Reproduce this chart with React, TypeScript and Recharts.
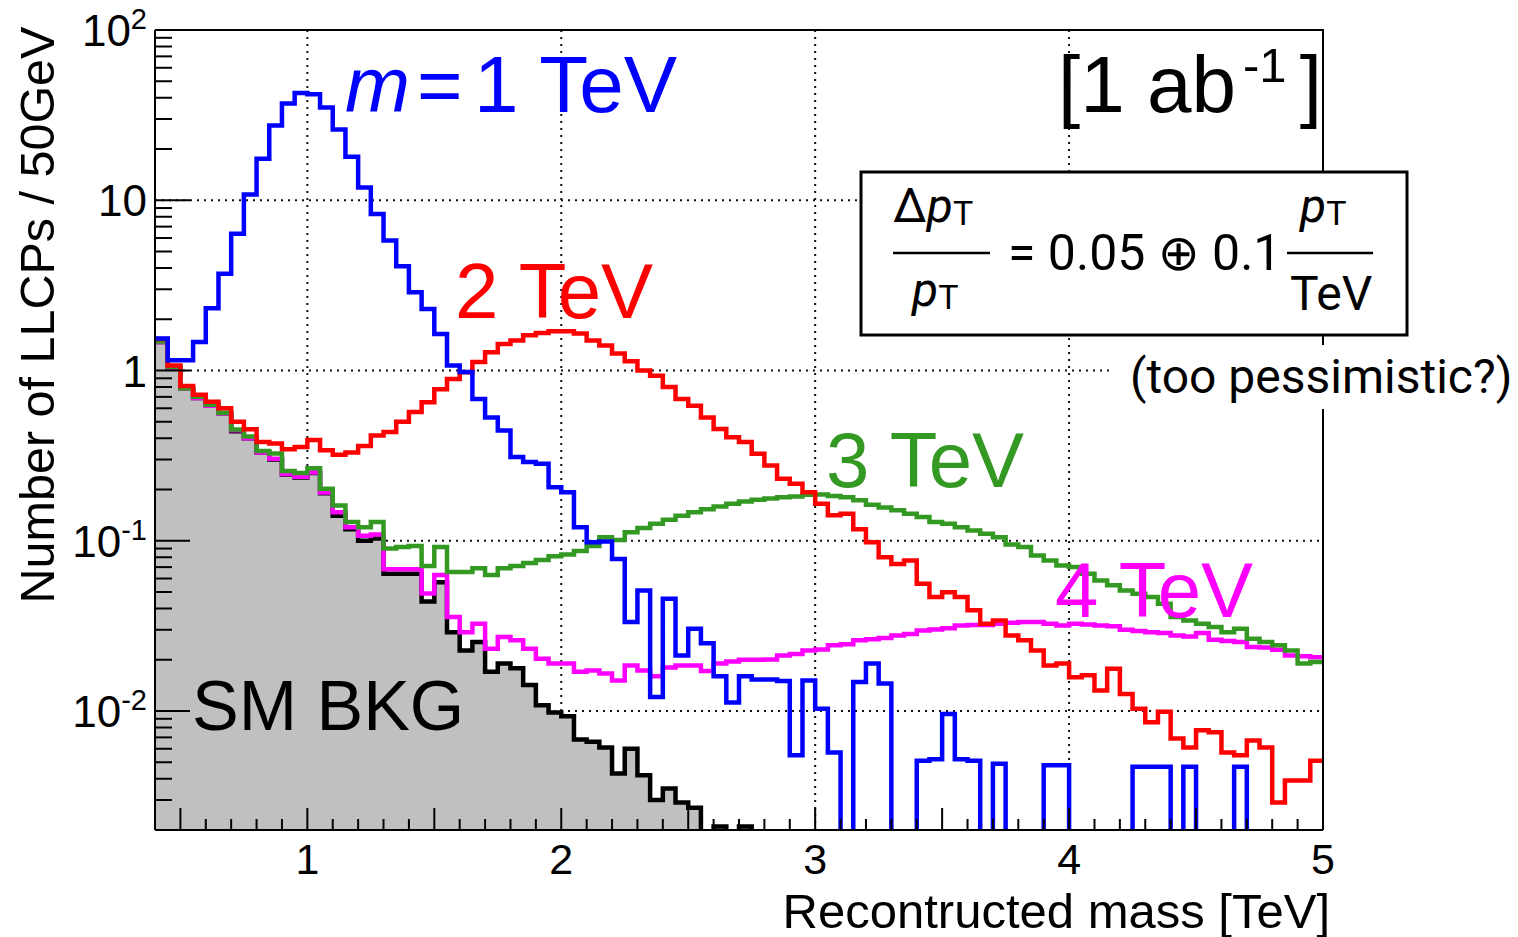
import React from 'react'
import { ComposedChart, Line, Area, XAxis, YAxis, CartesianGrid } from 'recharts'

// 92 bins of 50 GeV, 0.4 -> 5 TeV. Values are entries per bin;
// 0 means an empty bin (drawn below the 0.002 floor and clipped).
const BIN_START = 0.4
const BIN_WIDTH = 0.05

const smBkg = [
  1.47, 1.04, 0.78, 0.69, 0.62, 0.56, 0.44, 0.40, 0.33, 0.30,
  0.245, 0.235, 0.25, 0.19, 0.14, 0.117, 0.10, 0.103, 0.064, 0.064,
  0.064, 0.044, 0.057, 0.029, 0.0227, 0.0254, 0.017, 0.019, 0.0178, 0.0142,
  0.0108, 0.0098, 0.0093, 0.0068, 0.0066, 0.0061, 0.0043, 0.006, 0.0042, 0.003,
  0.0035, 0.0029, 0.0027, 0, 0.0021, 0, 0.0021, 0, 0, 0,
  0, 0, 0, 0, 0, 0, 0, 0, 0, 0,
  0, 0, 0, 0, 0, 0, 0, 0, 0, 0,
  0, 0, 0, 0, 0, 0, 0, 0, 0, 0,
  0, 0, 0, 0, 0, 0, 0, 0, 0, 0,
  0, 0,
]

const m1TeV = [
  1.54, 1.15, 1.15, 1.47, 2.32, 3.7, 6.35, 10.8, 17.5, 27.5,
  37, 42.7, 42, 35, 26, 18, 11.9, 8.3, 5.8, 4.1,
  2.88, 2.3, 1.64, 1.07, 0.98, 0.68, 0.53, 0.444, 0.31, 0.29,
  0.283, 0.206, 0.193, 0.12, 0.098, 0.099, 0.078, 0.0333, 0.051, 0.0121,
  0.0456, 0.0212, 0.0304, 0.025, 0.016, 0.0112, 0.016, 0.0153, 0.0153, 0.015,
  0.0055, 0.0151, 0.0103, 0.0057, 0, 0.0148, 0.019, 0.0145, 0, 0,
  0.0051, 0.0052, 0.0096, 0.0052, 0.0051, 0, 0.0049, 0, 0, 0,
  0.0048, 0.0048, 0, 0, 0, 0, 0, 0.0047, 0.0047, 0.0047,
  0, 0.0047, 0, 0, 0, 0.0047, 0, 0, 0, 0,
  0, 0,
]

const m2TeV = [
  1.53, 1.07, 0.81, 0.72, 0.655, 0.60, 0.50, 0.452, 0.38, 0.372,
  0.345, 0.355, 0.39, 0.34, 0.32, 0.33, 0.36, 0.415, 0.435, 0.50,
  0.57, 0.65, 0.775, 0.89, 0.977, 1.12, 1.28, 1.43, 1.50, 1.61,
  1.66, 1.70, 1.70, 1.65, 1.50, 1.40, 1.26, 1.135, 1.0, 0.93,
  0.80, 0.68, 0.62, 0.53, 0.454, 0.406, 0.38, 0.324, 0.277, 0.231,
  0.216, 0.193, 0.165, 0.141, 0.144, 0.117, 0.098, 0.080, 0.073, 0.0766,
  0.0559, 0.0467, 0.0499, 0.0467, 0.039, 0.0325, 0.034, 0.0278, 0.026, 0.0227,
  0.0185, 0.019, 0.0158, 0.0162, 0.0132, 0.0177, 0.0126, 0.0103, 0.0086, 0.0099,
  0.0069, 0.0061, 0.0077, 0.0075, 0.0057, 0.0055, 0.0067, 0.0061, 0.0029, 0.0039,
  0.0039, 0.0051,
]

const m3TeV = [
  1.48, 1.05, 0.785, 0.70, 0.63, 0.565, 0.45, 0.41, 0.337, 0.325,
  0.257, 0.25, 0.267, 0.202, 0.161, 0.129, 0.12, 0.129, 0.09, 0.092,
  0.093, 0.071, 0.092, 0.0655, 0.0655, 0.069, 0.063, 0.069, 0.071, 0.074,
  0.077, 0.081, 0.083, 0.087, 0.093, 0.105, 0.101, 0.112, 0.119, 0.126,
  0.133, 0.14, 0.147, 0.153, 0.159, 0.165, 0.17, 0.174, 0.177, 0.18,
  0.182, 0.186, 0.187, 0.183, 0.18, 0.173, 0.163, 0.157, 0.151, 0.144,
  0.138, 0.129, 0.126, 0.12, 0.115, 0.11, 0.105, 0.095, 0.092, 0.082,
  0.0766, 0.0716, 0.070, 0.064, 0.0585, 0.0547, 0.051, 0.0489, 0.0467, 0.0427,
  0.0356, 0.034, 0.0325, 0.0311, 0.029, 0.0304, 0.0266, 0.0254, 0.0243, 0.0227,
  0.019, 0.0194,
]

const m4TeV = [
  1.47, 1.04, 0.78, 0.69, 0.62, 0.56, 0.445, 0.40, 0.33, 0.303,
  0.247, 0.238, 0.252, 0.192, 0.147, 0.12, 0.107, 0.109, 0.068, 0.068,
  0.068, 0.049, 0.063, 0.0356, 0.029, 0.0325, 0.0232, 0.0272, 0.026, 0.0232,
  0.0203, 0.019, 0.019, 0.017, 0.0173, 0.0166, 0.0151, 0.0185, 0.0173, 0.016,
  0.018, 0.0185, 0.0185, 0.0172, 0.019, 0.0195, 0.02, 0.02, 0.0201, 0.0212,
  0.0216, 0.0227, 0.023, 0.0243, 0.0247, 0.026, 0.0264, 0.0268, 0.0278, 0.0283,
  0.0297, 0.0301, 0.0306, 0.0318, 0.032, 0.032, 0.0325, 0.033, 0.0333, 0.0333,
  0.0325, 0.0318, 0.0325, 0.0322, 0.0318, 0.0315, 0.030, 0.0295, 0.029, 0.0287,
  0.0278, 0.0274, 0.0287, 0.0262, 0.0258, 0.0254, 0.0238, 0.0236, 0.0229, 0.0212,
  0.021, 0.0207,
]

const X_LABELS = [1, 2, 3, 4, 5]
const Y_MAJOR = [0.01, 0.1, 1, 10, 100]
const Y_LABELS = [['10', '-2'], ['10', '-1'], ['1', ''], ['10', ''], ['10', '2']]

const EMPTY = 1e-4

// step rows: one per bin edge, last edge repeats the last bin
const rows = Array.from({ length: smBkg.length + 1 }, (_, i) => {
  const k = Math.min(i, smBkg.length - 1)
  const v = (a: number[]) => (a[k] > 0 ? a[k] : EMPTY)
  return {
    x: Math.round((BIN_START + i * BIN_WIDTH) * 1000) / 1000,
    bkg: v(smBkg), m1: v(m1TeV), m2: v(m2TeV), m3: v(m3TeV), m4: v(m4TeV),
  }
})

const xTicks: number[] = []
for (let k = 5; k <= 50; k++) xTicks.push(k / 10)
const yTicks: number[] = []
for (let d = -3; d <= 1; d++)
  for (let m = 1; m <= 9; m++) {
    const t = Number((m * Math.pow(10, d)).toPrecision(3))
    if (t >= 0.002) yTicks.push(t)
  }
yTicks.push(100)

const HELV = '"Liberation Sans", Arial, Helvetica, sans-serif'
const ROBOTO = 'Roboto, "Noto Sans", "DejaVu Sans", sans-serif'
const LW = 4.5

function XTick(props: any) {
  const { x, y, payload } = props
  const v = payload.value
  const half = Math.abs(v * 2 - Math.round(v * 2)) < 1e-6
  const lab = X_LABELS.find(l => Math.abs(l - v) < 1e-6)
  return (
    <g>
      <line x1={x} x2={x} y1={y} y2={y - (half ? 22 : 11)} stroke="#000" strokeWidth={2} />
      {lab !== undefined && (
        <text x={x} y={y + 44} textAnchor="middle" fontFamily={HELV} fontSize={43} fill="#000">{lab}</text>
      )}
    </g>
  )
}

function YTick(props: any) {
  const { x, y, payload } = props
  const idx = Y_MAJOR.findIndex(m => Math.abs(m - payload.value) / m < 1e-6)
  const lab = idx >= 0 ? Y_LABELS[idx] : null
  return (
    <g>
      <line x1={x} x2={x + (lab ? 35 : 17)} y1={y} y2={y} stroke="#000" strokeWidth={2} />
      {lab && (
        <text x={x - 8} y={y + 16} textAnchor="end" fontFamily={HELV} fontSize={44} fill="#000">
          {lab[0]}
          {lab[1] && <tspan fontSize={29} dy={-17}>{lab[1]}</tspan>}
        </text>
      )}
    </g>
  )
}

export default function App() {
  return (
    <div style={{ position: 'absolute', left: 0, top: 0, width: 1518, height: 937, background: '#fff' }}>
      <ComposedChart width={1518} height={937} data={rows} margin={{ top: 30, right: 195, bottom: 47, left: 95 }}>
        <CartesianGrid
          horizontalValues={[0.01, 0.1, 1, 10]}
          verticalValues={[1, 2, 3, 4]}
          stroke="#111"
          strokeWidth={2}
          strokeDasharray="2 5"
        />
        <Line type="stepAfter" dataKey="m4" stroke="#ff00ff" strokeWidth={LW} dot={false} isAnimationActive={false} />
        <Line type="stepAfter" dataKey="m3" stroke="#339922" strokeWidth={LW} dot={false} isAnimationActive={false} />
        <Line type="stepAfter" dataKey="m2" stroke="#ff0000" strokeWidth={LW} dot={false} isAnimationActive={false} />
        <Line type="stepAfter" dataKey="m1" stroke="#0000ff" strokeWidth={LW} dot={false} isAnimationActive={false} />
        <Area type="stepAfter" dataKey="bkg" stroke="#000" strokeWidth={LW} fill="#c0c0c0" fillOpacity={1}
          baseValue="dataMin" isAnimationActive={false} />
        <XAxis type="number" dataKey="x" domain={[0.4, 5]} allowDataOverflow ticks={xTicks} interval={0}
          tickSize={0} tickMargin={0} tickLine={false} height={60}
          axisLine={{ stroke: '#000', strokeWidth: 2 }} tick={(p: any) => <XTick {...p} />} />
        <YAxis type="number" scale="log" domain={[0.002, 100]} allowDataOverflow ticks={yTicks} interval={0}
          tickSize={0} tickMargin={0} tickLine={false} width={60}
          axisLine={{ stroke: '#000', strokeWidth: 2 }} tick={(p: any) => <YTick {...p} />} />
      </ComposedChart>

      <svg width={1518} height={937} style={{ position: 'absolute', left: 0, top: 0, pointerEvents: 'none' }}>
        {/* frame */}
        <path d="M155 30 H1323 V830" fill="none" stroke="#000" strokeWidth={2} />

        {/* axis titles */}
        <text transform="translate(54,315) rotate(-90)" textAnchor="middle" fontFamily={HELV} fontSize={48.5} fill="#000">
          Number of LLCPs / 50GeV
        </text>
        <text x={1330} y={928} textAnchor="end" fontFamily={HELV} fontSize={49} fill="#000">Recontructed mass [TeV]</text>

        {/* series labels */}
        <text x={345} y={112} fontFamily={HELV} fontSize={78} fontStyle="italic" fill="#0000ff">m</text>
        <text x={417} y={112} fontFamily={HELV} fontSize={78} fill="#0000ff">=</text>
        <text x={474} y={112} fontFamily={HELV} fontSize={80} fill="#0000ff">1 TeV</text>
        <text x={455} y={318} fontFamily={HELV} fontSize={78} fill="#ff0000">2 TeV</text>
        <text x={826} y={487} fontFamily={HELV} fontSize={78} fill="#339922">3 TeV</text>
        <text x={1055} y={617} fontFamily={HELV} fontSize={78} fill="#ff00ff">4 TeV</text>
        <text x={192} y={730} fontFamily={HELV} fontSize={70} fill="#000">SM BKG</text>

        {/* luminosity */}
        <text x={1058} y={112} fontFamily={HELV} fontSize={80} fill="#000">[1 ab</text>
        <text x={1243} y={82} fontFamily={HELV} fontSize={49} fill="#000">-1</text>
        <text x={1322} y={112} textAnchor="end" fontFamily={HELV} fontSize={80} fill="#000">]</text>

        {/* resolution box */}
        <rect x={861} y={172} width={546} height={163} fill="#fff" stroke="#000" strokeWidth={3} />
        <text x={893} y={222} fontFamily={ROBOTO} fontSize={48} fill="#000">
          Δ<tspan fontStyle="italic">p</tspan><tspan fontSize={34} dy={3}>T</tspan>
        </text>
        <line x1={893} x2={990} y1={253} y2={253} stroke="#000" strokeWidth={2.5} />
        <text x={912} y={306} fontFamily={ROBOTO} fontSize={48} fill="#000">
          <tspan fontStyle="italic">p</tspan><tspan fontSize={34} dy={3}>T</tspan>
        </text>
        <text x={1008} y={270} fontFamily={ROBOTO} fontSize={50} fill="#000">= 0.05 ⊕ 0.1</text>
        <text x={1300} y={222} fontFamily={ROBOTO} fontSize={48} fill="#000">
          <tspan fontStyle="italic">p</tspan><tspan fontSize={34} dy={3}>T</tspan>
        </text>
        <line x1={1287} x2={1373} y1={253} y2={253} stroke="#000" strokeWidth={2.5} />
        <text x={1290} y={310} fontFamily={ROBOTO} fontSize={48} fill="#000">TeV</text>

        <rect x={1112} y={345} width={406} height={64} fill="#fff" />
        <text x={1130} y={393} fontFamily={ROBOTO} fontSize={48} fill="#000">(too pessimistic?)</text>
      </svg>
    </div>
  )
}
